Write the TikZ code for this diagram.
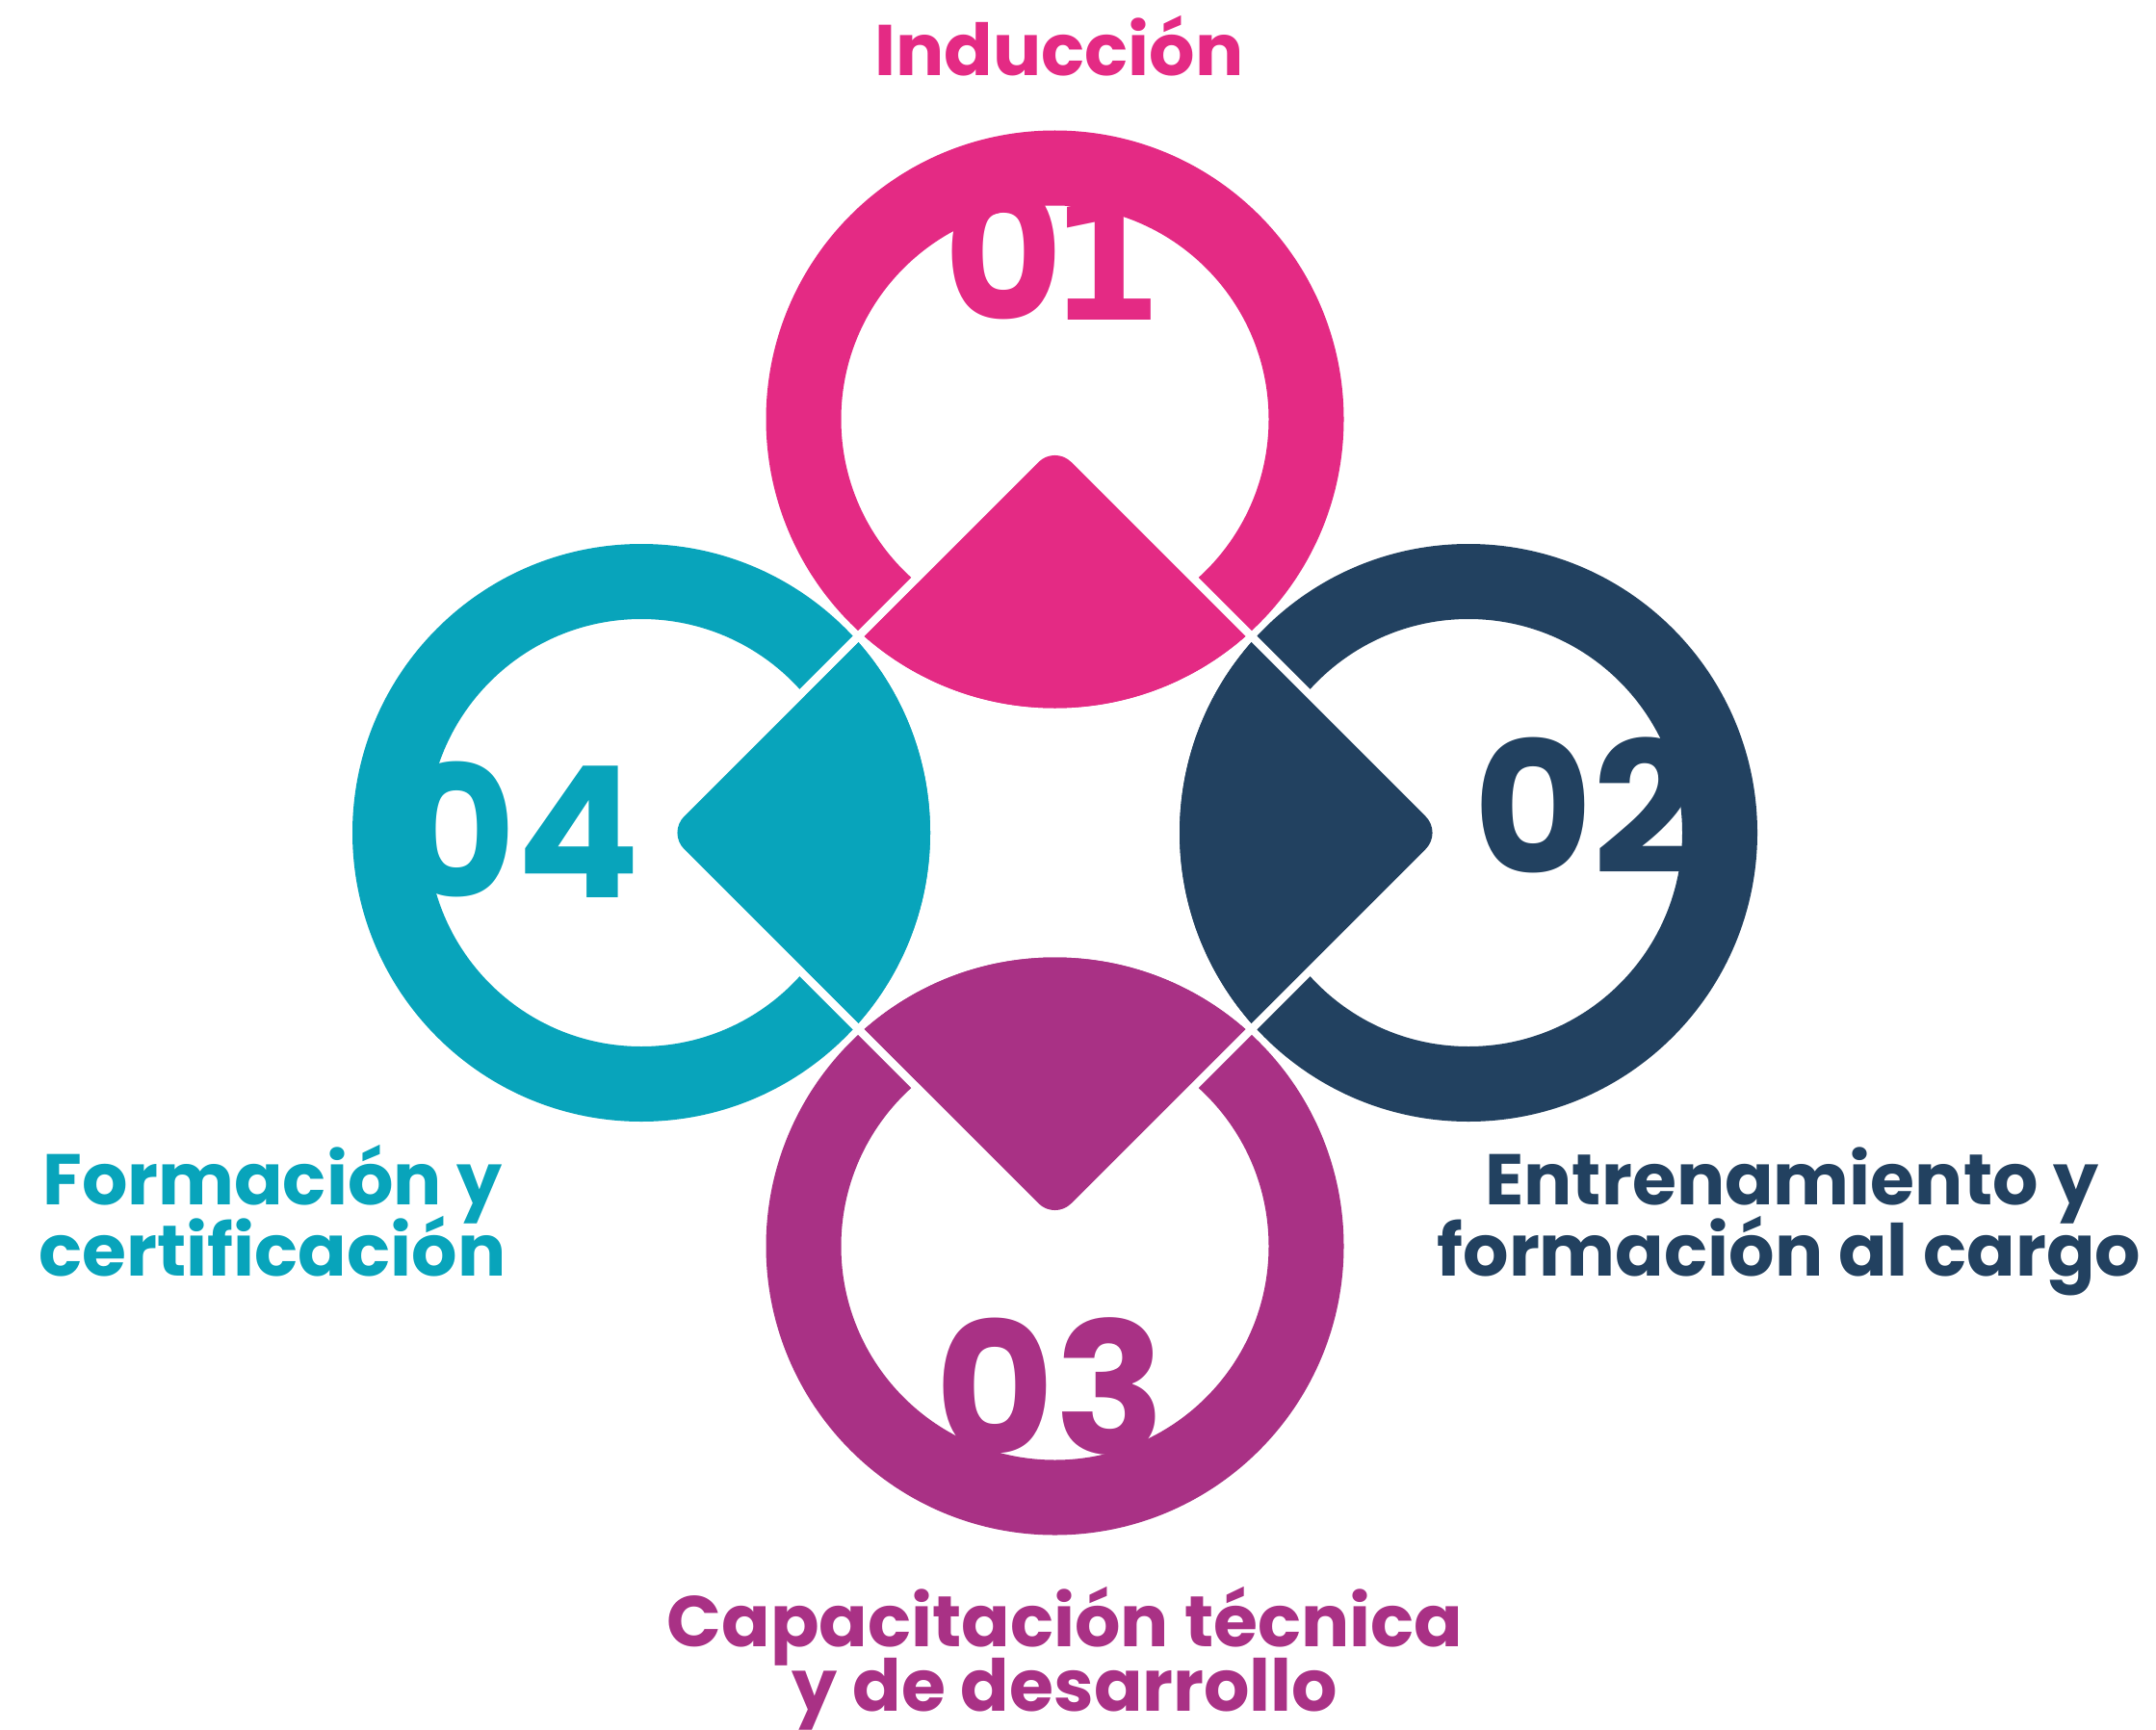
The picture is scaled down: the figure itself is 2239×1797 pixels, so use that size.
\documentclass[tikz,border=0pt]{standalone}
\usepackage{fontspec}
\setmainfont{Poppins}
\newfontfamily\onefont{DejaVu Sans}
\usetikzlibrary{calc}
\definecolor{pinkc}{HTML}{E42A84}
\definecolor{tealc}{HTML}{08A4BB}
\definecolor{navyc}{HTML}{224160}
\definecolor{purpc}{HTML}{A93185}
\tikzset{
  digit/.style={font=\fontsize{54}{54}\selectfont\bfseries, inner sep=0pt},
  lbl/.style={font=\fontsize{21.2}{21}\selectfont\bfseries, inner sep=0pt, anchor=base},
  ring/.style={even odd rule},
  gap/.style={draw=white, line width=0.086cm, line join=miter}
}
\begin{document}
\begin{tikzpicture}[x=0.01cm,y=-0.01cm]
\useasboundingbox (0,0) rectangle (2239,1797);
\coordinate (C) at (1095.5,865);
\coordinate (cT) at (1095.5,435.5);
\coordinate (cR) at (1525,865);
\coordinate (cB) at (1095.5,1294.5);
\coordinate (cL) at (666,865);
% rings
\fill[pinkc,ring] (cT) circle[radius=300] (cT) circle[radius=222];
\fill[navyc,ring] (cR) circle[radius=300] (cR) circle[radius=222];
\fill[purpc,ring] (cB) circle[radius=300] (cB) circle[radius=222];
\fill[tealc,ring] (cL) circle[radius=300] (cL) circle[radius=222];
% white gaps along the diamond
\draw[gap] ($(C)+(0,-408)$) -- ($(C)+(408,0)$) -- ($(C)+(0,408)$) -- ($(C)+(-408,0)$) -- cycle;
% arrow triangles
\begin{scope}
\clip[rounded corners=0.24cm] ($(C)+(0,-402)$) -- ($(C)+(402,0)$) -- ($(C)+(0,402)$) -- ($(C)+(-402,0)$) -- cycle;
\fill[pinkc] (cT) circle[radius=300];
\fill[navyc] (cR) circle[radius=300];
\fill[purpc] (cB) circle[radius=300];
\fill[tealc] (cL) circle[radius=300];
\end{scope}
% numbers
\node[digit, text=pinkc, anchor=base] (n01) at (1094,332) {0\kern-0.08em{\onefont\fontsize{48}{48}\selectfont\bfseries 1}};
\node[digit, text=navyc, anchor=base west] (n02) at (1530,907) {02};
\node[digit, text=tealc, anchor=base east] (n04) at (666,932) {04};
\node[digit, text=purpc, anchor=base] (n03) at (1091,1510) {03};
% labels
\node[lbl, text=pinkc] (tInd) at (1100,79) {Inducción};
\node[lbl, text=tealc] (tF1) at (283,1251.7) {Formación y};
\node[lbl, text=tealc] (tF2) at (283,1325) {certificación};
\node[lbl, text=navyc] (tE1) at (1861,1251.7) {Entrenamiento y};
\node[lbl, text=navyc] (tE2) at (1858,1325) {formación al cargo};
\node[lbl, text=purpc] (tC1) at (1106,1710) {Capacitación técnica};
\node[lbl, text=purpc] (tC2) at (1106,1777) {y de desarrollo};
\end{tikzpicture}
\end{document}
